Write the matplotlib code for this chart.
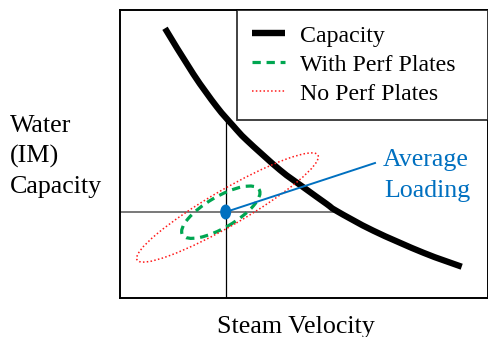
import matplotlib
matplotlib.use("Agg")
import matplotlib.pyplot as plt
from matplotlib.patches import Ellipse, PathPatch
from matplotlib.path import Path
from matplotlib.lines import Line2D

plt.rcParams['font.family'] = ['Liberation Serif', 'DejaVu Serif']

# ---- data (arbitrary units) ----
cap_x = [45, 73.3, 96.7, 113.3, 126.7, 160, 183, 206.7, 216.7, 253.3, 303.3, 341.7]
cap_y = [269.7, 224.0, 191.3, 172.0, 157.8, 128, 111.0, 94.0, 87.0, 67.3, 45.3, 31.3]

avg_point = (105.7, 86.0)          # average loading
avg_capacity_y = 180.5             # capacity at average velocity
avg_capacity_x = 216.7             # velocity where capacity equals average loading

perf_center = (100.8, 85.8)        # with perf plates spread
perf_size = (89, 31, 30.4)         # width, height, angle
noperf_center = (107.5, 90.5)      # no perf plates spread
noperf_size = (209, 35.7, 30.1)

label_end = (255, 135)

legend_labels = ["Capacity", "With Perf Plates", "No Perf Plates"]


def smooth_path(xs, ys):
    """Catmull-Rom through the data points, as cubic Bezier segments."""
    pts = list(zip(xs, ys))
    n = len(pts)
    verts = [pts[0]]
    codes = [Path.MOVETO]
    for i in range(n - 1):
        p0 = pts[i - 1] if i > 0 else pts[i]
        p1 = pts[i]
        p2 = pts[i + 1]
        p3 = pts[i + 2] if i + 2 < n else pts[i + 1]
        c1 = (p1[0] + (p2[0] - p0[0]) / 6, p1[1] + (p2[1] - p0[1]) / 6)
        c2 = (p2[0] - (p3[0] - p1[0]) / 6, p2[1] - (p3[1] - p1[1]) / 6)
        verts += [c1, c2, p2]
        codes += [Path.CURVE4] * 3
    return Path(verts, codes)


W, H = 489, 337
fig = plt.figure(figsize=(W / 100, H / 100), dpi=100)
ax = fig.add_axes([120 / W, (H - 298) / H, 368 / W, 288 / H])
ax.set_xlim(0, 368)
ax.set_ylim(0, 288)
ax.set_xticks([])
ax.set_yticks([])
for s in ax.spines.values():
    s.set_linewidth(1.4)
    s.set_color('black')

# drop lines
ax.plot([0, avg_capacity_x], [avg_point[1], avg_point[1]], color='#555555', lw=1.1, zorder=1)
ax.plot([avg_point[0], avg_point[0]], [0, avg_capacity_y], color='black', lw=0.9, zorder=1)

green = '#00A651'
red = '#FF1A1A'
blue = '#0070C0'

e1 = Ellipse(perf_center, perf_size[0], perf_size[1], angle=perf_size[2], fill=False,
             edgecolor=green, lw=2.3, linestyle=(0, (2.6, 1.8)), zorder=3)
ax.add_patch(e1)

ax.add_patch(PathPatch(smooth_path(cap_x, cap_y), fill=False, edgecolor='black',
                       lw=4.5, capstyle='butt', zorder=2))

e2 = Ellipse(noperf_center, noperf_size[0], noperf_size[1], angle=noperf_size[2], fill=False,
             edgecolor=red, lw=1.1, linestyle=(0, (1, 1.5)), zorder=4)
ax.add_patch(e2)

ax.plot([avg_point[0], label_end[0]], [avg_point[1], label_end[1]], color=blue, lw=1.4, zorder=5)
ax.add_patch(Ellipse(avg_point, 11, 15, facecolor=blue, edgecolor='none', zorder=6))

ax.text(263.0, 298 - 166, "Average", color=blue, fontsize=18.6, ha='left', va='baseline')
ax.text(264.3, 298 - 197, "Loading", color=blue, fontsize=18.6, ha='left', va='baseline')

handles = [Line2D([], [], color='black', lw=4.6, solid_capstyle='butt'),
           Line2D([], [], color=green, lw=2.3, linestyle=(0, (2.6, 1.8))),
           Line2D([], [], color=red, lw=1.1, linestyle=(0, (1, 1.5)))]
x0 = (237 - 120) / 368
leg = ax.legend(handles, legend_labels, loc='upper left', bbox_to_anchor=(x0, 0, 1 - x0, 1),
                mode='expand', borderaxespad=0, fontsize=17.2, handlelength=1.4,
                handletextpad=0.6, labelspacing=0.3, borderpad=0.63, frameon=True,
                fancybox=False)
leg.get_frame().set_edgecolor('black')
leg.get_frame().set_linewidth(1.3)
leg.set_zorder(10)

fs = 18.7
fig.text(10 / W, 1 - 131.7 / H, "Water", fontsize=fs, ha='left', va='baseline')
fig.text(10 / W, 1 - 162.7 / H, "(IM)", fontsize=fs, ha='left', va='baseline')
fig.text(10 / W, 1 - 192.7 / H, "Capacity", fontsize=fs, ha='left', va='baseline')
fig.text(296 / W, 1 - 333.3 / H, "Steam Velocity", fontsize=fs, ha='center', va='baseline')

fig.savefig("out.png", dpi=100)
